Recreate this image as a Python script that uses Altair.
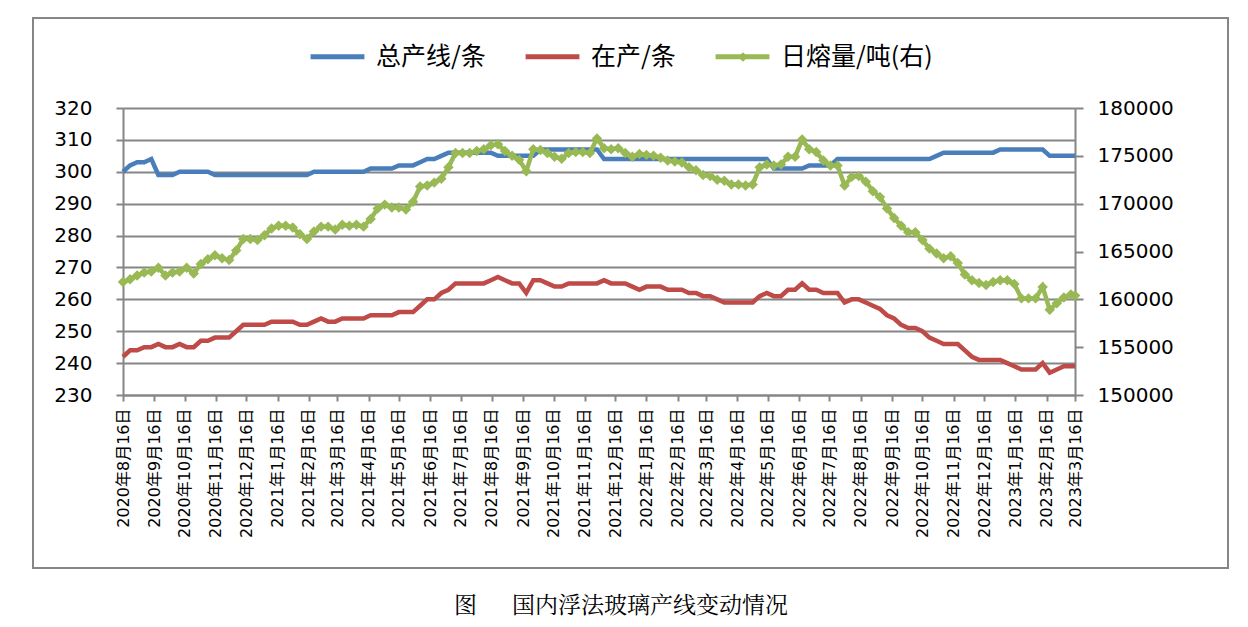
import altair as alt
import pandas as pd

# weekly observation dates (last one on the 16th)
dates = [d.strftime("%Y-%m-%d") for d in pd.date_range("2020-08-16", periods=135, freq="7D")] + ["2023-03-16"]

total_lines = [
    300, 302, 303, 303, 304, 299, 299, 299, 300, 300, 300, 300, 300,
    299, 299, 299, 299, 299, 299, 299, 299, 299, 299, 299, 299, 299, 299,
    300, 300, 300, 300, 300, 300, 300, 300,
    301, 301, 301, 301, 302, 302, 302, 303, 304, 304, 305,
    306, 306, 306, 306, 306, 306, 306,
    305, 305, 305, 305, 305, 305,
    307, 307, 307, 307, 307, 307, 307, 307, 307,
    304, 304, 304, 304, 304, 304, 304, 304, 304, 304, 304, 304,
    304, 304, 304, 304, 304, 304, 304, 304, 304, 304, 304, 304,
    301, 301, 301, 301, 301, 302, 302, 302, 302,
    304, 304, 304, 304, 304, 304, 304, 304, 304, 304, 304, 304, 304, 304,
    305, 306, 306, 306, 306, 306, 306, 306, 306,
    307, 307, 307, 307, 307, 307, 307, 305, 305, 305, 305, 305,
]

running_lines = [
    242, 244, 244, 245, 245, 246, 245, 245, 246, 245, 245, 247, 247, 248, 248, 248,
    250, 252, 252, 252, 252, 253, 253, 253, 253, 252, 252, 253, 254, 253, 253, 254,
    254, 254, 254, 255, 255, 255, 255, 256, 256, 256, 258, 260, 260, 262, 263, 265,
    265, 265, 265, 265, 266, 267, 266, 265, 265, 262, 266, 266, 265, 264, 264, 265,
    265, 265, 265, 265, 266, 265, 265, 265, 264, 263, 264, 264, 264, 263, 263, 263,
    262, 262, 261, 261, 260, 259, 259, 259, 259, 259, 261, 262, 261, 261, 263, 263,
    265, 263, 263, 262, 262, 262, 259, 260, 260, 259, 258, 257, 255, 254, 252, 251,
    251, 250, 248, 247, 246, 246, 246, 244, 242, 241, 241, 241, 241, 240, 239, 238,
    238, 238, 240, 237, 238, 239, 239, 239,
]

daily_melt = [
    161800, 162100, 162500, 162800, 162900, 163300, 162500, 162800, 162900, 163300,
    162700, 163700, 164200, 164600, 164300, 164100, 165100, 166300, 166300, 166200,
    166700, 167400, 167700, 167700, 167500, 166800, 166300, 167100, 167600, 167600,
    167300, 167800, 167700, 167800, 167600, 168400, 169500, 169900, 169600, 169600,
    169400, 170200, 171800, 171900, 172200, 172600, 173800, 175300, 175300, 175300,
    175500, 175700, 176100, 176200, 175500, 175000, 174600, 173400, 175700, 175600,
    175300, 174900, 174700, 175300, 175400, 175400, 175300, 176800, 175800, 175700,
    175800, 175300, 174900, 175200, 175100, 175000, 174800, 174500, 174400, 174300,
    173800, 173500, 173000, 172900, 172500, 172400, 172000, 172000, 171900, 172000,
    173800, 174100, 174000, 174100, 174900, 174900, 176700, 175700, 175400, 174500,
    174000, 174000, 171900, 172800, 172900, 172300, 171300, 170700, 169500, 168500,
    167700, 167000, 167000, 166200, 165300, 164800, 164300, 164500, 163800, 162600,
    162000, 161700, 161500, 161800, 162000, 162000, 161600, 160100, 160100, 160100,
    161300, 158900, 159600, 160200, 160500, 160400,
]

tick_months = [
    (2020, 8), (2020, 9), (2020, 10), (2020, 11), (2020, 12),
    (2021, 1), (2021, 2), (2021, 3), (2021, 4), (2021, 5), (2021, 6),
    (2021, 7), (2021, 8), (2021, 9), (2021, 10), (2021, 11), (2021, 12),
    (2022, 1), (2022, 2), (2022, 3), (2022, 4), (2022, 5), (2022, 6),
    (2022, 7), (2022, 8), (2022, 9), (2022, 10), (2022, 11), (2022, 12),
    (2023, 1), (2023, 2), (2023, 3),
]

left_ticks = [230, 240, 250, 260, 270, 280, 290, 300, 310, 320]
right_ticks = [150000, 155000, 160000, 165000, 170000, 175000, 180000]

series = ["总产线/条", "在产/条", "日熔量/吨(右)"]
colors = ["#4A7EBB", "#BE4B48", "#98B954"]

df = pd.DataFrame({
    "date": dates,
    series[0]: total_lines,
    series[1]: running_lines,
    series[2]: daily_melt,
})

GRAY = "#868686"
NUM_FONT = "DejaVu Sans"
CJK = "Noto Sans CJK SC"

tick_values = [alt.DateTime(year=y, month=m, date=16, utc=True) for y, m in tick_months]

x_enc = alt.X(
    "date:T",
    scale=alt.Scale(type="utc", domain=[tick_values[0], tick_values[-1]]),
    axis=alt.Axis(
        values=tick_values,
        labelExpr="utcFormat(datum.value, '%Y年%-m月%-d日')",
        labelAngle=270,
        labelFont=f"{NUM_FONT}, {CJK}",
        labelFontSize=16,
        labelColor="black",
        labelPadding=7,
        labelOverlap=False,
        labelFlush=False,
        tickSize=6,
        tickColor=GRAY,
        tickWidth=2,
        domainColor=GRAY,
        domainWidth=2,
        grid=False,
        title=None,
    ),
)

color_enc = alt.Color(
    "series:N",
    scale=alt.Scale(domain=series, range=colors),
    legend=alt.Legend(
        title=None,
        orient="none",
        legendX=185,
        legendY=-81,
        direction="horizontal",
        symbolType="stroke",
        symbolSize=2900,
        symbolStrokeWidth=5,
        labelFont=CJK,
        labelFontSize=25,
        labelColor="black",
        labelOffset=9,
        columnPadding=29,
    ),
)

left = alt.Chart(df).transform_fold(
    [series[0], series[1]], as_=["series", "value"]
).mark_line(strokeWidth=4.5).encode(
    x=x_enc,
    y=alt.Y(
        "value:Q",
        scale=alt.Scale(domain=[230, 320], nice=False, zero=False),
        axis=alt.Axis(
            orient="left",
            values=left_ticks,
            grid=True,
            gridColor=GRAY,
            gridWidth=2,
            domainColor=GRAY,
            domainWidth=2,
            tickColor=GRAY,
            tickWidth=2,
            tickSize=7,
            labelFont=NUM_FONT,
            labelFontSize=20,
            labelColor="black",
            labelPadding=24,
            title=None,
        ),
    ),
    color=color_enc,
)

right = alt.Chart(df).transform_fold(
    [series[2]], as_=["series", "value"]
).mark_line(
    strokeWidth=4.5,
    point=alt.OverlayMarkDef(shape="diamond", size=110, filled=True, opacity=1),
).encode(
    x=x_enc,
    y=alt.Y(
        "value:Q",
        scale=alt.Scale(domain=[150000, 180000], nice=False, zero=False),
        axis=alt.Axis(
            orient="right",
            values=right_ticks,
            format="d",
            grid=False,
            domainColor=GRAY,
            domainWidth=2,
            tickColor=GRAY,
            tickWidth=2,
            tickSize=8,
            labelFont=NUM_FONT,
            labelFontSize=20,
            labelColor="black",
            labelPadding=14,
            title=None,
        ),
    ),
    color=color_enc,
)

frame = alt.Chart(alt.Data(values=[{}])).mark_rect(
    filled=False, stroke=GRAY, strokeWidth=2
).encode(
    x=alt.value(-90), x2=alt.value(1105), y=alt.value(-90), y2=alt.value(460)
)

# diamond marker drawn on the legend's line symbol for the melt series
legend_diamond = alt.Chart(alt.Data(values=[{}])).mark_point(
    shape="diamond", size=90, filled=True, opacity=1, color=colors[2]
).encode(x=alt.value(620), y=alt.value(-51))

chart = alt.layer(frame, left, right, legend_diamond).resolve_scale(
    y="independent"
).properties(
    width=952,
    height=287,
    autosize=alt.AutoSizeParams(type="none"),
    padding={"left": 115, "top": 100, "right": 157, "bottom": 225},
    title=alt.TitleParams(
        text="图\u3000\u00a0\u00a0国内浮法玻璃产线变动情况",
        orient="bottom",
        anchor="middle",
        font=f"Noto Serif CJK SC, {CJK}",
        fontSize=23,
        fontWeight="normal",
        color="black",
        offset=26,
        dx=22,
    ),
).configure_view(stroke="transparent").configure(background="white")

chart.save("out.html", embed_options={"renderer": "svg", "actions": False})
